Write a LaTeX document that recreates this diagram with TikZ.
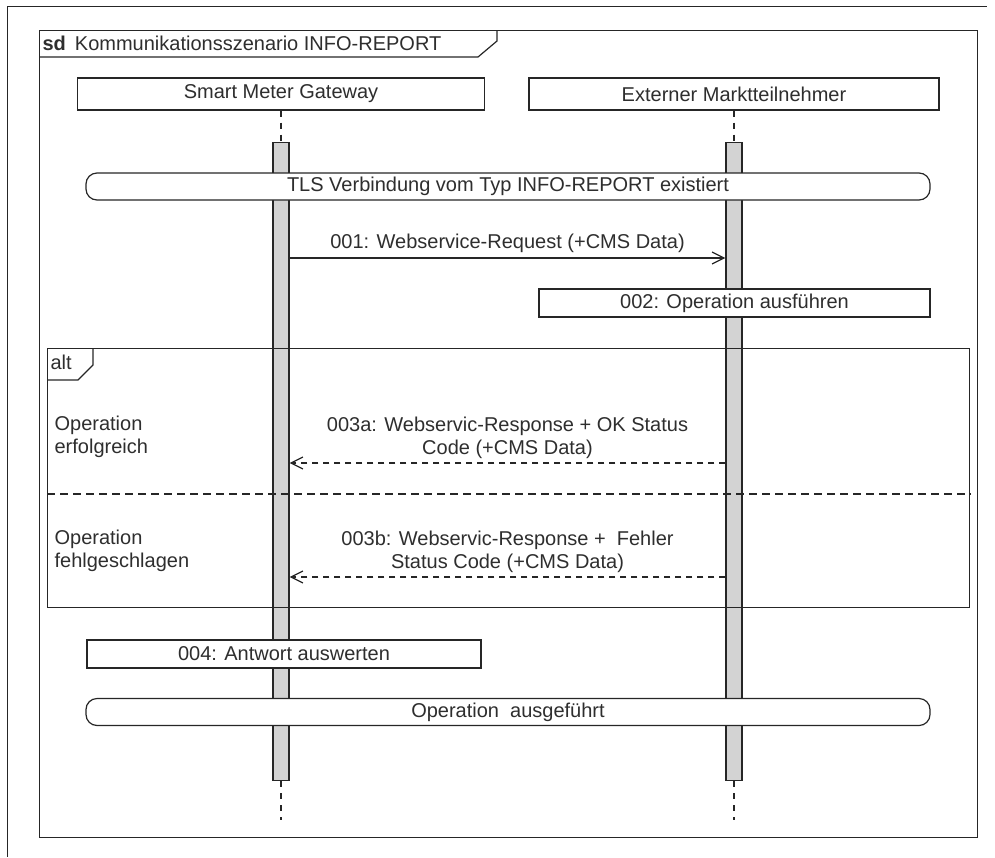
\documentclass[tikz,border=0pt]{standalone}
\usepackage{fontspec}
\setmainfont{Liberation Sans}
\usetikzlibrary{arrows.meta}
\definecolor{ln}{HTML}{262626}
\definecolor{barfill}{HTML}{D3D3D3}
\definecolor{txt}{HTML}{2E2E2E}
\tikzset{
  lbl/.style={font=\fontsize{20}{22.5}\selectfont, text=txt, inner sep=0pt},
  headbox/.style={lbl, draw=ln, fill=white, minimum height=32pt},
  actbar/.style={draw=ln, fill=barfill, minimum width=16pt, minimum height=638pt, inner sep=0pt},
  statebox/.style={lbl, draw=ln, fill=white, rounded corners=11pt, minimum width=844pt, minimum height=27pt},
  actbox/.style={lbl, draw=ln, fill=white, minimum height=28pt},
  msg/.style={draw=ln, -{Straight Barb[length=12pt,width=12pt]}},
  reply/.style={msg, dash pattern=on 6pt off 5pt},
  lifeline/.style={draw=ln, dash pattern=on 6pt off 6pt},
  framebox/.style={draw=ln, inner sep=0pt},
}
\begin{document}
\begin{tikzpicture}[x=1pt,y=-1pt,line width=1.2pt]
\useasboundingbox (0,0) rectangle (995,857);
% outer border
\draw[line width=1pt,ln] (7,6) -- (987,6);
\draw[line width=1pt,ln] (7,6) -- (7,857);
% sd frame
\node[framebox, anchor=north west, minimum width=938pt, minimum height=807pt] (sd) at (39,30) {};
\draw[ln] (39,57) -- (478,57) -- (497,41) -- (497,30);
\node[lbl, anchor=west] (sdlabel) at (42,43) {\textbf{sd}\hspace{9pt}Kommunikationsszenario INFO-REPORT};
% lifelines
\node[headbox, minimum width=407pt] (smg) at (281,94) {Smart Meter Gateway};
\node[headbox, minimum width=410pt] (em) at (734,94) {Externer Marktteilnehmer};
\node[actbar, anchor=north] (smgbar) at (281,142) {};
\node[actbar, anchor=north] (embar) at (734,142) {};
\coordinate (smgend) at (281,820);
\coordinate (emend) at (734,820);
\draw[lifeline] (smg.south) -- (smgbar.north);
\draw[lifeline] (em.south) -- (embar.north);
\draw[lifeline] (smgbar.south) -- (smgend);
\draw[lifeline] (embar.south) -- (emend);
% state TLS
\node[statebox] (tls) at (508,186.5) {TLS Verbindung vom Typ INFO-REPORT existiert};
% message 001
\draw[msg] (smgbar.east |- 0,258) -- (embar.west |- 0,258)
  node[lbl, midway, above=5pt] (m1) {001: Webservice-Request (+CMS Data)};
% 002
\node[actbox, minimum width=391pt] (op2) at (734.5,303) {002: Operation ausführen};
% alt fragment
\node[framebox, anchor=north west, minimum width=922pt, minimum height=259pt] (alt) at (47,348) {};
\draw[ln] (47,380) -- (78,380) -- (93,365) -- (93,348);
\node[lbl, anchor=west] (altlabel) at (50,362) {alt};
\draw[ln, dash pattern=on 8pt off 5pt] (alt.west |- 0,494) -- (alt.east |- 0,494);
\node[lbl, anchor=west, align=left] (g1) at (54,437) {Operation\\erfolgreich};
\node[lbl, anchor=west, align=left] (g2) at (54,551) {Operation\\fehlgeschlagen};
\draw[reply] (embar.west |- 0,463) -- (smgbar.east |- 0,463)
  node[lbl, midway, above=4pt, align=center] (m3a) {003a: Webservic-Response + OK Status\\Code (+CMS Data)};
\draw[reply] (embar.west |- 0,577) -- (smgbar.east |- 0,577)
  node[lbl, midway, above=4pt, align=center] (m3b) {003b: Webservic-Response +\ \ Fehler\\Status Code (+CMS Data)};
% 004
\node[actbox, minimum width=394pt] (op4) at (284,654) {004: Antwort auswerten};
% state done
\node[statebox] (done) at (508,712) {Operation\ \ ausgeführt};
\end{tikzpicture}
\end{document}
